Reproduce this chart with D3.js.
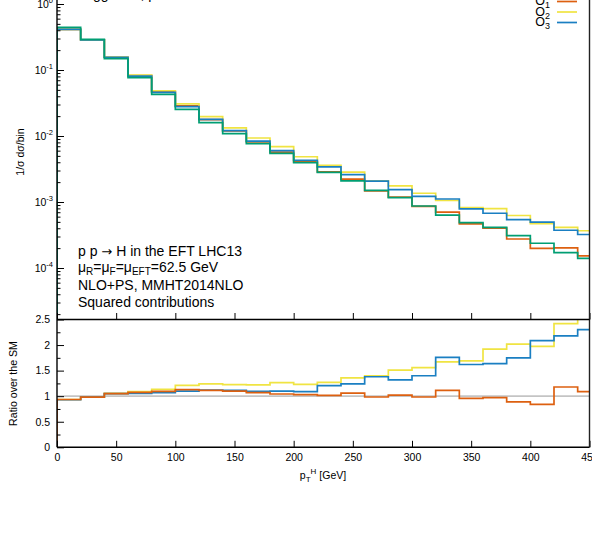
<!DOCTYPE html>
<html><head><meta charset="utf-8">
<script src="https://cdn.jsdelivr.net/npm/d3@7"></script>
<style>
body{margin:0;background:#fff}
svg{display:block}
text{font-family:"Liberation Sans",Arial,Helvetica,sans-serif;fill:#000}
</style></head>
<body><svg id="c" width="592" height="538"></svg>
<script>
// ---------- data ----------
const binEdges = [0,20,40,60,80,100,120,140,160,180,200,220,240,260,280,300,320,340,360,380,400,420,440,460];
const smDist = [0.443,0.292,0.1485,0.0765,0.0428,0.0254,0.0159,0.01084,0.00764,0.00547,0.00394,0.00282,0.00209,0.00150,0.001165,0.00087,0.000631,0.000486,0.000413,0.000309,0.000237,0.000171,0.00014];
const o1Dist = [0.414,0.286,0.156,0.0822,0.0469,0.0287,0.0177,0.01192,0.00817,0.00571,0.00406,0.00287,0.00222,0.001476,0.001188,0.000856,0.000704,0.000466,0.000401,0.000275,0.000199,0.000202,0.000153];
const o2Dist = [0.414,0.286,0.157,0.0834,0.0485,0.0307,0.0197,0.01328,0.00932,0.00691,0.00485,0.00358,0.00284,0.00210,0.00176,0.001357,0.001054,0.000821,0.000793,0.000624,0.000468,0.000414,0.000367];
const o3Dist = [0.412,0.286,0.156,0.0808,0.0458,0.0279,0.0178,0.01209,0.00837,0.00602,0.00429,0.00340,0.00259,0.00207,0.001538,0.001218,0.001111,0.000787,0.000675,0.000541,0.000494,0.000373,0.000322];
const smRatio = [1,1,1,1,1,1,1,1,1,1,1,1,1,1,1,1,1,1,1,1,1,1,1];
const o1Ratio = [0.935,0.98,1.05,1.075,1.095,1.128,1.115,1.10,1.07,1.043,1.03,1.017,1.06,0.984,1.02,0.984,1.115,0.958,0.97,0.89,0.84,1.18,1.09];
const o2Ratio = [0.935,0.98,1.056,1.09,1.134,1.21,1.24,1.225,1.22,1.264,1.23,1.27,1.36,1.40,1.51,1.56,1.67,1.69,1.92,2.02,1.975,2.42,2.62];
const o3Ratio = [0.93,0.98,1.05,1.056,1.07,1.10,1.12,1.115,1.095,1.10,1.09,1.206,1.24,1.38,1.32,1.40,1.76,1.62,1.635,1.75,2.085,2.18,2.30];
const seriesNames = ["SM","O1","O2","O3"];
const seriesSub = ["","1","2","3"];
const seriesColors = ["#009e73","#dd6010","#f0e442","#1a7fc2"];
const xTickValues = [0,50,100,150,200,250,300,350,400,450];
const logTickValues = [1,0.1,0.01,0.001,0.0001];
const logTickExps = ["0","-1","-2","-3","-4"];
const ratioTickValues = [0,0.5,1,1.5,2,2.5];
const ratioTickLabels = ["0","0.5","1","1.5","2","2.5"];
const textLines = ["p p \u2192 H in the EFT LHC13","\u03bc_R=\u03bc_F=\u03bc_EFT=62.5 GeV","NLO+PS, MMHT2014NLO","Squared contributions"];

// ---------- layout ----------
const svg = d3.select("#c");
const xL = 57, xR = 589.5;
const upTop = -40, upBot = 319.5;
const loTop = 319.5, loBot = 447.3;

const x = d3.scaleLinear().domain([0,450]).range([xL,xR]);
const yLog = d3.scaleLog().domain([1e-5,1]).range([334,4]);
const yRat = d3.scaleLinear().domain([0,2.5]).range([loBot,loTop]);

const defs = svg.append("defs");
defs.append("clipPath").attr("id","cu").append("rect")
  .attr("x",xL).attr("y",upTop).attr("width",xR-xL).attr("height",upBot-upTop);
defs.append("clipPath").attr("id","cl").append("rect")
  .attr("x",xL).attr("y",loTop).attr("width",xR-xL).attr("height",loBot-loTop);

function stepPoints(vals, base){
  const pts = [[binEdges[0], base]];
  vals.forEach((v,i)=>{ pts.push([binEdges[i],v]); pts.push([binEdges[i+1],v]); });
  return pts;
}

// ---------- upper panel ----------
const gu = svg.append("g").attr("clip-path","url(#cu)");
const lineU = d3.line().x(d=>x(d[0])).y(d=>yLog(d[1]));
const upSeries = [smDist,o1Dist,o2Dist,o3Dist];
[1,2,3,0].forEach(k=>{
  gu.append("path").attr("d",lineU(stepPoints(upSeries[k],1e-5)))
    .attr("fill","none").attr("stroke",seriesColors[k]).attr("stroke-width",1.7)
    .attr("stroke-linejoin","miter");
});

// axes upper
const minorLog = [];
for (let e=-5;e<=-1;e++) for (let m=2;m<=9;m++){ const v=m*Math.pow(10,e); if (yLog(v)<upBot-1) minorLog.push(v); }
svg.append("g").attr("transform",`translate(${xL},0)`)
  .call(d3.axisLeft(yLog).tickValues(minorLog).tickSize(-3.5).tickFormat(()=>""))
  .call(g=>g.select(".domain").remove())
  .call(g=>g.selectAll("line").attr("stroke","#000").attr("stroke-width",1));
const la = svg.append("g").attr("transform",`translate(${xL},0)`)
  .call(d3.axisLeft(yLog).tickValues(logTickValues).tickSize(-7).tickPadding(4).tickFormat(()=>""))
  .call(g=>g.select(".domain").remove())
  .call(g=>g.selectAll("line").attr("stroke","#000").attr("stroke-width",1));
la.selectAll(".tick text").each(function(d,i){
  const t = d3.select(this).attr("font-size",10.5).attr("font-family",null).attr("fill","#000");
  t.append("tspan").text("10");
  t.append("tspan").attr("dy",-4.5).attr("font-size",7.5).text(logTickExps[i]);
});
svg.append("g").attr("transform",`translate(0,${upBot})`)
  .call(d3.axisBottom(x).tickValues(xTickValues).tickSize(-6.5).tickFormat(()=>""))
  .call(g=>g.select(".domain").remove())
  .call(g=>g.selectAll("line").attr("stroke","#000").attr("stroke-width",1));

// ---------- lower panel ----------
const gl = svg.append("g").attr("clip-path","url(#cl)");
const lineL = d3.line().x(d=>x(d[0])).y(d=>yRat(d[1]));
gl.append("path").attr("d",lineL(stepPoints(smRatio,1).slice(1)))
  .attr("fill","none").attr("stroke","#c4c4c4").attr("stroke-width",1.7);
const loSeries = [smRatio,o1Ratio,o2Ratio,o3Ratio];
[2,3,1].forEach(k=>{
  gl.append("path").attr("d",lineL(stepPoints(loSeries[k],0)))
    .attr("fill","none").attr("stroke",seriesColors[k]).attr("stroke-width",1.7);
});
const minorRat = [0.25,0.75,1.25,1.75,2.25];
svg.append("g").attr("transform",`translate(${xL},0)`)
  .call(d3.axisLeft(yRat).tickValues(minorRat).tickSize(-3.5).tickFormat(()=>""))
  .call(g=>g.select(".domain").remove())
  .call(g=>g.selectAll("line").attr("stroke","#000").attr("stroke-width",1));
svg.append("g").attr("transform",`translate(${xL},0)`)
  .call(d3.axisLeft(yRat).tickValues(ratioTickValues).tickSize(-7).tickPadding(7).tickFormat((d,i)=>ratioTickLabels[i]))
  .call(g=>g.select(".domain").remove())
  .call(g=>g.selectAll("line").attr("stroke","#000").attr("stroke-width",1))
  .call(g=>g.selectAll("text").attr("font-size",10.5).attr("font-family",null).attr("fill","#000"));
svg.append("g").attr("transform",`translate(0,${loBot})`)
  .call(d3.axisBottom(x).tickValues(xTickValues).tickSize(-6.5).tickPadding(6.5))
  .call(g=>g.select(".domain").remove())
  .call(g=>g.selectAll("line").attr("stroke","#000").attr("stroke-width",1))
  .call(g=>g.selectAll("text").attr("font-size",10.5).attr("font-family",null).attr("fill","#000"));

// ---------- borders ----------
const bw = 1.4;
svg.append("line").attr("x1",xL).attr("x2",xL).attr("y1",upTop).attr("y2",loBot).attr("stroke","#000").attr("stroke-width",bw);
svg.append("line").attr("x1",xR).attr("x2",xR).attr("y1",upTop).attr("y2",loBot).attr("stroke","#222").attr("stroke-width",bw);
svg.append("line").attr("x1",xL).attr("x2",xR).attr("y1",loTop).attr("y2",loTop).attr("stroke","#000").attr("stroke-width",bw);
svg.append("line").attr("x1",xL).attr("x2",xR).attr("y1",loBot).attr("y2",loBot).attr("stroke","#000").attr("stroke-width",bw);

// ---------- legend (SM entry lies above the visible area) ----------
const legY = [-9,1.5,12,22.5];
seriesNames.forEach((n,k)=>{
  if (k===0) return;
  svg.append("line").attr("x1",557).attr("x2",577).attr("y1",legY[k]).attr("y2",legY[k])
    .attr("stroke",seriesColors[k]).attr("stroke-width",1.7);
  const t = svg.append("text").attr("x",550).attr("y",legY[k]+3.8).attr("text-anchor","end").attr("font-size",12.5);
  t.append("tspan").text("O");
  t.append("tspan").attr("dy",2.8).attr("font-size",9).text(seriesSub[k]);
});

// cropped title fragment at top
svg.append("text").attr("x",93).attr("y",-1.5).attr("font-size",14).text("gg \u2192 H, p");

// ---------- text block ----------
const tb = [256,272,289.5,306.5];
function richText(sel, str){
  const parts = str.split(/(_[A-Za-z]+|\u2192)/);
  let sub=false;
  parts.forEach(p=>{
    if (!p) return;
    if (p[0]==="_"){ sel.append("tspan").attr("dy",3).attr("font-size",10).text(p.slice(1)); sub=true; }
    else {
      const s=sel.append("tspan").text(p);
      if (p==="\u2192") s.attr("font-family","DejaVu Sans").attr("font-size",13);
      if (sub){ s.attr("dy",-3); sub=false; }
    }
  });
}
textLines.forEach((l,i)=>{
  const t = svg.append("text").attr("x",78).attr("y",tb[i]).attr("font-size",14);
  richText(t,l);
});

// ---------- axis labels ----------
svg.append("text").attr("transform","translate(24,152) rotate(-90)").attr("text-anchor","middle")
  .attr("font-size",10.5).text("1/\u03c3 d\u03c3/bin");
svg.append("text").attr("transform","translate(17,383.5) rotate(-90)").attr("text-anchor","middle")
  .attr("font-size",10.6).text("Ratio over the SM");
const xl = svg.append("text").attr("x",323).attr("y",478.5).attr("text-anchor","middle").attr("font-size",10.5);
xl.append("tspan").text("p");
xl.append("tspan").attr("dy",3).attr("font-size",8).text("T");
xl.append("tspan").attr("dy",-8).attr("font-size",8).text("H");
xl.append("tspan").attr("dy",5).text(" [GeV]");
</script></body></html>
